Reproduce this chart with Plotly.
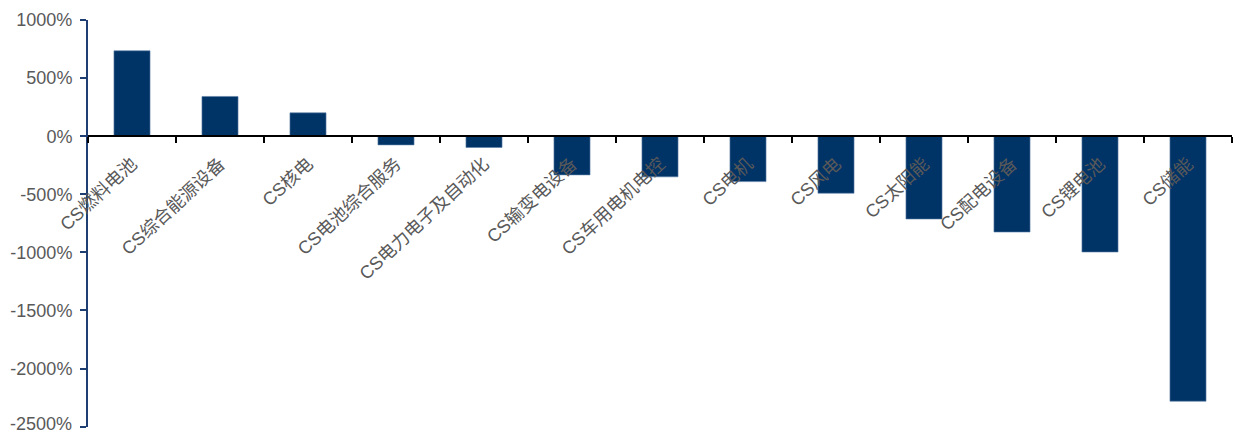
import plotly.graph_objects as go

categories = ["CS燃料电池", "CS综合能源设备", "CS核电", "CS电池综合服务", "CS电力电子及自动化",
              "CS输变电设备", "CS车用电机电控", "CS电机", "CS风电", "CS太阳能",
              "CS配电设备", "CS锂电池", "CS储能"]
values = [735, 342, 201, -75, -97, -333, -350, -391, -491, -713, -825, -997, -2281]
y_ticks = [1000, 500, 0, -500, -1000, -1500, -2000, -2500]
y_tick_labels = [f"{v}%" for v in y_ticks]
y_min, y_max = -2503, 1000

fig = go.Figure(go.Bar(
    x=categories, y=values,
    marker=dict(color="#003366", line=dict(color="#5b7fa8", width=0.6)),
    width=0.41,
))

font_fam = "Liberation Sans, Arial, Noto Sans CJK SC, sans-serif"
fig.update_layout(
    width=1234, height=434,
    margin=dict(l=88, r=2, t=20, b=7),
    plot_bgcolor="white", paper_bgcolor="white",
    showlegend=False,
    font=dict(family=font_fam, size=18, color="#595959"),
    xaxis=dict(
        type="category",
        anchor="free",
        position=(0 - y_min) / (y_max - y_min),
        showline=True, linecolor="black", linewidth=2,
        ticks="outside", tickson="boundaries", ticklen=6, tickwidth=2, tickcolor="black",
        tickangle=-43,
        ticklabelstandoff=9,
        tickfont=dict(family=font_fam, size=18, color="#595959"),
        showgrid=False, zeroline=False,
        range=[-0.5, len(categories) - 0.5],
    ),
    yaxis=dict(
        range=[y_min, y_max],
        tickvals=y_ticks, ticktext=y_tick_labels,
        showline=True, linecolor="#1f3f73", linewidth=2,
        ticks="outside", ticklen=6, tickwidth=2, tickcolor="#1f3f73",
        tickfont=dict(family=font_fam, size=18, color="#595959"),
        showgrid=False, zeroline=False,
        ticklabelstandoff=4,
    ),
)

# bottom tick label (plotly drops it because it overflows the page)
fig.add_annotation(
    x=0, xref="paper", xanchor="right", xshift=-14,
    y=y_ticks[-1], yref="y", yanchor="middle", yshift=3,
    text=y_tick_labels[-1], showarrow=False,
    font=dict(family=font_fam, size=18, color="#595959"),
)

fig.write_html("out.html")
